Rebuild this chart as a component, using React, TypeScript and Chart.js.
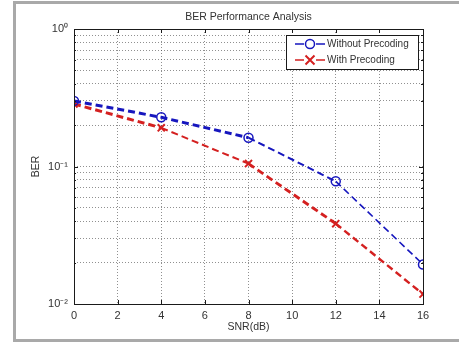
import React, { useEffect, useRef } from "react";
import { Chart, registerables } from "chart.js";

Chart.register(...registerables);

// ---- data ----
const snr = [0, 4, 8, 12, 16];
const berWithout = [0.3, 0.228, 0.162, 0.078, 0.0194];
const berWith = [0.285, 0.191, 0.105, 0.0384, 0.0118];
const xTicks = [0, 2, 4, 6, 8, 10, 12, 14, 16];
const yTicks = [
  0.01, 0.02, 0.03, 0.04, 0.05, 0.06, 0.07, 0.08, 0.09,
  0.1, 0.2, 0.3, 0.4, 0.5, 0.6, 0.7, 0.8, 0.9, 1,
];
const yDecadeLabels = ["10\u207B\u00B2", "10\u207B\u00B9", "10\u2070"];
const seriesNames = ["Without Precoding", "With Precoding"];
const titleText = "BER Performance Analysis";
const xTitle = "SNR(dB)";
const yTitle = "BER";

// ---- styles ----
const BLUE = "rgb(22,22,190)";
const RED = "rgb(212,32,32)";
const FONT = "'Liberation Sans', Arial, Helvetica, sans-serif";
const TEXT = "#333333";
const GRID = "rgba(70,70,70,0.6)";
const blueWidths = [3, 3, 2, 1.6];
const redWidths = [3, 2, 2.8, 2.4];

function isDecade(v: number) {
  const l = Math.log10(v);
  return Math.abs(l - Math.round(l)) < 1e-9;
}

function drawCircle(ctx: CanvasRenderingContext2D, x: number, y: number, color: string) {
  ctx.save();
  ctx.setLineDash([]);
  ctx.strokeStyle = color;
  ctx.lineWidth = 1.5;
  ctx.beginPath();
  ctx.arc(x, y, 4.5, 0, Math.PI * 2);
  ctx.stroke();
  ctx.restore();
}

function drawCross(ctx: CanvasRenderingContext2D, x: number, y: number, color: string) {
  ctx.save();
  ctx.setLineDash([]);
  ctx.strokeStyle = color;
  ctx.lineWidth = 2;
  const r = 4.5;
  ctx.beginPath();
  ctx.moveTo(x - r, y - r);
  ctx.lineTo(x + r, y + r);
  ctx.moveTo(x + r, y - r);
  ctx.lineTo(x - r, y + r);
  ctx.stroke();
  ctx.restore();
}

const framePlugin = {
  id: "frame",
  beforeDraw(chart: any) {
    const ctx = chart.ctx as CanvasRenderingContext2D;
    ctx.save();
    ctx.fillStyle = "#ffffff";
    ctx.fillRect(0, 0, chart.width, chart.height);
    ctx.fillStyle = "#a9a9a9";
    ctx.fillRect(13, 1, chart.width - 13, 3);
    ctx.fillRect(13, 1, 3, chart.height - 1);
    ctx.fillRect(13, 339, chart.width - 13, 3);
    ctx.restore();
  },
  afterDraw(chart: any) {
    const ctx = chart.ctx as CanvasRenderingContext2D;
    const a = chart.chartArea;
    const xs = chart.scales.x;
    const ys = chart.scales.y;
    ctx.save();
    // box
    ctx.setLineDash([]);
    ctx.strokeStyle = "#1a1a1a";
    ctx.lineWidth = 1;
    ctx.strokeRect(Math.round(a.left) + 0.5, Math.round(a.top) + 0.5,
      Math.round(a.right - a.left), Math.round(a.bottom - a.top));
    // inner tick marks
    ctx.beginPath();
    for (const v of xTicks) {
      const px = Math.round(xs.getPixelForValue(v)) + 0.5;
      ctx.moveTo(px, a.bottom);
      ctx.lineTo(px, a.bottom - 4);
      ctx.moveTo(px, a.top);
      ctx.lineTo(px, a.top + 4);
    }
    for (const v of yTicks) {
      const py = Math.round(ys.getPixelForValue(v)) + 0.5;
      const len = isDecade(v) ? 4 : 2;
      ctx.moveTo(a.left, py);
      ctx.lineTo(a.left + len, py);
      ctx.moveTo(a.right, py);
      ctx.lineTo(a.right - len, py);
    }
    ctx.stroke();

    // title
    const cx = (a.left + a.right) / 2;
    ctx.fillStyle = TEXT;
    ctx.font = `10.5px ${FONT}`;
    ctx.textAlign = "center";
    ctx.textBaseline = "middle";
    ctx.fillText(titleText, cx, 17);
    // x title
    ctx.fillText(xTitle, cx, 327);
    // y title
    ctx.save();
    ctx.translate(36, (a.top + a.bottom) / 2);
    ctx.rotate(-Math.PI / 2);
    ctx.fillText(yTitle, 0, 0);
    ctx.restore();

    // legend
    const lx = 286, ly = 35, lw = 132, lh = 34;
    ctx.fillStyle = "#ffffff";
    ctx.fillRect(lx, ly, lw, lh);
    ctx.strokeStyle = "#1a1a1a";
    ctx.lineWidth = 1;
    ctx.strokeRect(lx + 0.5, ly + 0.5, lw, lh);
    const colors = [BLUE, RED];
    for (let i = 0; i < 2; i++) {
      const y = 44 + i * 16;
      ctx.strokeStyle = colors[i];
      ctx.lineWidth = 1.6;
      ctx.setLineDash([]);
      ctx.beginPath();
      ctx.moveTo(295, y);
      ctx.lineTo(304, y);
      ctx.moveTo(316, y);
      ctx.lineTo(325, y);
      ctx.stroke();
      if (i === 0) drawCircle(ctx, 310, y, colors[i]);
      else drawCross(ctx, 310, y, colors[i]);
      ctx.fillStyle = TEXT;
      ctx.font = `10px ${FONT}`;
      ctx.textAlign = "left";
      ctx.textBaseline = "middle";
      ctx.fillText(seriesNames[i], 327, y + 0.5);
    }
    ctx.restore();
  },
};

export default function App() {
  const ref = useRef<HTMLCanvasElement | null>(null);

  useEffect(() => {
    if (!ref.current) return;
    const chart = new Chart(ref.current, {
      type: "line",
      data: {
        datasets: [
          {
            label: seriesNames[0],
            data: snr.map((x, i) => ({ x, y: berWithout[i] })),
            borderColor: BLUE,
            backgroundColor: "transparent",
            borderWidth: 2,
            borderDash: [7, 4],
            pointStyle: "circle",
            pointRadius: 4.5,
            pointBorderWidth: 1.5,
            pointBorderColor: BLUE,
            pointBackgroundColor: "rgba(0,0,0,0)",
            segment: { borderWidth: (c: any) => blueWidths[c.p0DataIndex] },
            tension: 0,
          },
          {
            label: seriesNames[1],
            data: snr.map((x, i) => ({ x, y: berWith[i] })),
            borderColor: RED,
            backgroundColor: "transparent",
            borderWidth: 2,
            borderDash: [7, 4],
            pointStyle: "crossRot",
            pointRadius: 5,
            pointBorderWidth: 2,
            pointBorderColor: RED,
            segment: { borderWidth: (c: any) => redWidths[c.p0DataIndex] },
            tension: 0,
          },
        ],
      },
      options: {
        responsive: false,
        animation: false,
        layout: { padding: { top: 29, right: 36, bottom: 0, left: 0 } },
        plugins: {
          legend: { display: false },
          title: { display: false },
          tooltip: { enabled: false },
        },
        scales: {
          x: {
            type: "linear",
            min: 0,
            max: 16,
            afterBuildTicks: (s: any) => {
              s.ticks = xTicks.map((v) => ({ value: v }));
            },
            afterFit: (s: any) => {
              s.height = 38;
            },
            grid: { color: GRID, lineWidth: 1, drawTicks: false },
            border: { display: false, dash: [1, 2] },
            ticks: {
              padding: 5,
              maxRotation: 0,
              autoSkip: false,
              color: TEXT,
              font: { family: FONT, size: 11 },
              callback: (v: any) => String(v),
            },
          },
          y: {
            type: "logarithmic",
            min: 0.01,
            max: 1,
            afterBuildTicks: (s: any) => {
              s.ticks = yTicks.map((v) => ({ value: v }));
            },
            afterFit: (s: any) => {
              s.width = 74;
            },
            grid: { color: GRID, lineWidth: 1, drawTicks: false },
            border: { display: false, dash: [1, 2] },
            ticks: {
              padding: 6,
              autoSkip: false,
              color: TEXT,
              font: { family: FONT, size: 11 },
              callback: (v: any) => {
                const n = Number(v);
                if (!isDecade(n)) return "";
                const k = Math.round(Math.log10(n)) + 2;
                return yDecadeLabels[k] ?? "";
              },
            },
          },
        },
      },
      plugins: [framePlugin],
    } as any);
    return () => chart.destroy();
  }, []);

  return (
    <div style={{ position: "fixed", left: 0, top: 0, width: 459, height: 342 }}>
      <canvas ref={ref} width={459} height={342} style={{ display: "block", width: 459, height: 342 }} />
    </div>
  );
}
